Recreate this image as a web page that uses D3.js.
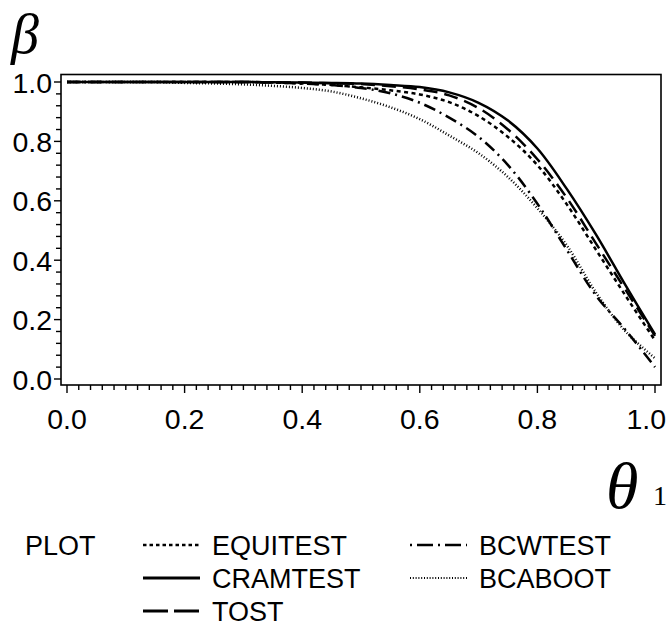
<!DOCTYPE html>
<html><head><meta charset="utf-8">
<script src="https://cdn.jsdelivr.net/npm/d3@7"></script>
<style>body{margin:0;background:#fff}svg{display:block}</style>
</head><body>
<svg id="chart" width="668" height="628"></svg>
<script>
const theta = [0,0.05,0.1,0.15,0.2,0.25,0.3,0.35,0.4,0.45,0.5,0.55,0.6,0.65,0.7,0.75,0.8,0.85,0.9,0.95,1.0];
const equitest = [1,1,1,1,1,1,1,0.998,0.995,0.99,0.982,0.972,0.958,0.932,0.885,0.815,0.72,0.588,0.434,0.28,0.13];
const cramtest = [1,1,1,1,1,1,1,0.999,0.998,0.997,0.995,0.99,0.983,0.965,0.93,0.87,0.776,0.64,0.485,0.315,0.15];
const tost     = [1,1,1,1,1,1,1,0.999,0.998,0.996,0.993,0.986,0.975,0.955,0.912,0.84,0.74,0.61,0.455,0.30,0.145];
const bcwtest  = [1,1,1,1,1,1,1,0.998,0.995,0.99,0.98,0.962,0.93,0.88,0.815,0.72,0.59,0.435,0.28,0.165,0.04];
const bcaboot  = [1,1,1,1,0.997,0.995,0.992,0.987,0.98,0.968,0.945,0.915,0.875,0.82,0.76,0.68,0.575,0.45,0.29,0.16,0.07];
const seriesNames = ["EQUITEST","CRAMTEST","TOST","BCWTEST","BCABOOT"];
const seriesValues = [equitest, cramtest, tost, bcwtest, bcaboot];
const xTicks = [0,0.2,0.4,0.6,0.8,1.0];
const yTicks = [0,0.2,0.4,0.6,0.8,1.0];

const plotDash = {EQUITEST:"4,3.5", CRAMTEST:null, TOST:"14,7", BCWTEST:"12,5,2,5", BCABOOT:"1,2"};
const legendDash = {EQUITEST:"3.5,3", CRAMTEST:null, TOST:"25,6", BCWTEST:"2,5,16,5", BCABOOT:"1,1.8"};
const legendWidth = {EQUITEST:2.5, CRAMTEST:3, TOST:3, BCWTEST:2.5, BCABOOT:2};

const svg = d3.select("#chart");
const x = d3.scaleLinear().domain([0,1]).range([67,655]);
const y = d3.scaleLinear().domain([0,1]).range([379,82]);
const box = {l:61, r:661, t:74.5, b:385};
const FONT = "'Liberation Sans', Arial, Helvetica, sans-serif";
const SERIF = "'Liberation Serif', 'Times New Roman', serif";

svg.append("rect").attr("x",box.l).attr("y",box.t).attr("width",box.r-box.l).attr("height",box.b-box.t)
  .attr("fill","none").attr("stroke","#000").attr("stroke-width",1.6);

const xMinor = d3.range(0,1.0001,0.02);
svg.append("g").selectAll("line").data(xMinor).join("line")
  .attr("x1",d=>x(d)).attr("x2",d=>x(d)).attr("y1",box.b)
  .attr("y2",(d,i)=> i%10===0 ? box.b+8 : box.b+5)
  .attr("stroke","#000").attr("stroke-width",1.4);
const yMinor = d3.range(0,1.0001,0.04);
svg.append("g").selectAll("line").data(yMinor).join("line")
  .attr("y1",d=>y(d)).attr("y2",d=>y(d)).attr("x1",box.l)
  .attr("x2",(d,i)=> i%5===0 ? box.l-7 : box.l-5)
  .attr("stroke","#000").attr("stroke-width",1.4);

const xl = svg.append("g").selectAll("text").data(xTicks).join("text")
  .attr("x",d=>x(d)).attr("y",429).attr("text-anchor","middle")
  .attr("font-family",FONT).attr("font-size",28.5).text(d=>d3.format(".1f")(d));
xl.each(function(){
  const b = this.getBBox();
  if (b.x + b.width > 666) d3.select(this).attr("x", +d3.select(this).attr("x") - (b.x + b.width - 666));
});
svg.append("g").selectAll("text").data(yTicks).join("text")
  .attr("x",52).attr("y",d=>y(d)+10.5).attr("text-anchor","end")
  .attr("font-family",FONT).attr("font-size",28.5).text(d=>d3.format(".1f")(d));

const line = d3.line().x((d,i)=>x(theta[i])).y(d=>y(d)).curve(d3.curveCatmullRom.alpha(0.5));
svg.append("g").selectAll("path").data(seriesNames).join("path")
  .attr("d",(n,i)=>line(seriesValues[i]))
  .attr("fill","none").attr("stroke","#000").attr("stroke-width",2.5)
  .attr("stroke-dasharray",n=>plotDash[n]);

svg.append("text").attr("x",11).attr("y",53).attr("font-family",SERIF).attr("font-style","italic")
  .attr("font-size",56).text("β");
svg.append("text").attr("x",606).attr("y",508).attr("font-family",SERIF).attr("font-style","italic")
  .attr("font-size",66).attr("font-weight",300).text("θ");
svg.append("text").attr("x",653).attr("y",505).attr("font-family",SERIF)
  .attr("font-size",28).text("1");

svg.append("text").attr("x",25).attr("y",555).attr("font-family",FONT).attr("font-size",27).text("PLOT");
const legPos = {EQUITEST:[143,545], CRAMTEST:[143,578], TOST:[143,611], BCWTEST:[410,545], BCABOOT:[410,578]};
const lg = svg.append("g").selectAll("g").data(seriesNames).join("g");
lg.append("line").attr("x1",n=>legPos[n][0]).attr("x2",n=>legPos[n][0]+57)
  .attr("y1",n=>legPos[n][1]).attr("y2",n=>legPos[n][1])
  .attr("stroke","#000").attr("stroke-width",n=>legendWidth[n]).attr("stroke-dasharray",n=>legendDash[n]);
lg.append("text").attr("x",n=>legPos[n][0]+69).attr("y",n=>legPos[n][1]+10)
  .attr("font-family",FONT).attr("font-size",27).text(n=>n);
</script>
</body></html>
